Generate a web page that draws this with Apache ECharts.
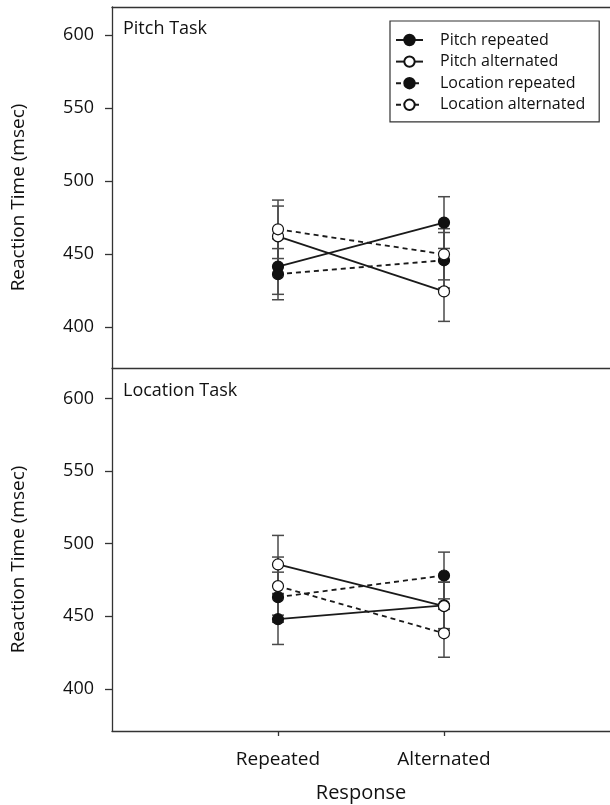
<!DOCTYPE html>
<html>
<head>
<meta charset="utf-8">
<script src="https://cdn.jsdelivr.net/npm/echarts@6/dist/echarts.min.js"></script>
<style>html,body{margin:0;padding:0;background:#fff;}#c{width:610px;height:805px;}</style>
</head>
<body>
<div id="c"></div>
<script>
// ---- data ----
const categories = ['Repeated', 'Alternated'];
const xPositions = [1, 2];
const yTicks = [400, 450, 500, 550, 600];
const seriesNames = ['Pitch repeated', 'Pitch alternated', 'Location repeated', 'Location alternated'];
const panelTitles = ['Pitch Task', 'Location Task'];

// Pitch task panel: means and error (+/-) per response
const pitchTaskPitchRep = [441.4, 471.5];
const pitchTaskPitchRepErr = [19, 17.7];
const pitchTaskPitchAlt = [462.1, 424.4];
const pitchTaskPitchAltErr = [20.7, 20.5];
const pitchTaskLocRep = [436.2, 445.7];
const pitchTaskLocRepErr = [17.5, 19];
const pitchTaskLocAlt = [466.9, 449.8];
const pitchTaskLocAltErr = [20, 17.5];

// Location task panel
const locTaskPitchRep = [448.0, 457.5];
const locTaskPitchRepErr = [17.4, 16];
const locTaskPitchAlt = [485.7, 457.0];
const locTaskPitchAltErr = [20, 16.5];
const locTaskLocRep = [463.2, 478.1];
const locTaskLocRepErr = [17.2, 16.1];
const locTaskLocAlt = [470.8, 438.3];
const locTaskLocAltErr = [20, 16.5];

const FONT = 'Open Sans';
const AX = '#333';
const panels = [
  [pitchTaskPitchRep, pitchTaskPitchAlt, pitchTaskLocRep, pitchTaskLocAlt],
  [locTaskPitchRep, locTaskPitchAlt, locTaskLocRep, locTaskLocAlt]
];
const panelErrs = [
  [pitchTaskPitchRepErr, pitchTaskPitchAltErr, pitchTaskLocRepErr, pitchTaskLocAltErr],
  [locTaskPitchRepErr, locTaskPitchAltErr, locTaskLocRepErr, locTaskLocAltErr]
];
const filled = [true, false, true, false];
const dashed = [false, false, true, true];

const series = [];
panels.forEach((vals, p) => {
  vals.forEach((v, s) => {
    const errs = panelErrs[p][s];
    series.push({
      type: 'custom',
      name: 'err' + p + s,
      xAxisIndex: p === 0 ? 0 : 2,
      yAxisIndex: p,
      z: 1,
      silent: true,
      data: xPositions.map((x, i) => [x, v[i], errs[i]]),
      renderItem: function (params, api) {
        const x = api.value(0), m = api.value(1), e = api.value(2);
        const hi = api.coord([x, m + e]);
        const lo = api.coord([x, m - e]);
        const hw = 6;
        const st = { stroke: '#4a4a4a', lineWidth: 1.5, fill: null };
        return {
          type: 'group',
          children: [
            { type: 'line', shape: { x1: hi[0], y1: hi[1], x2: lo[0], y2: lo[1] }, style: st },
            { type: 'line', shape: { x1: hi[0] - hw, y1: hi[1], x2: hi[0] + hw, y2: hi[1] }, style: st },
            { type: 'line', shape: { x1: lo[0] - hw, y1: lo[1], x2: lo[0] + hw, y2: lo[1] }, style: st }
          ]
        };
      }
    });
  });
  vals.forEach((v, s) => {
    series.push({
      type: 'line',
      name: seriesNames[s],
      xAxisIndex: p === 0 ? 0 : 2,
      yAxisIndex: p,
      z: 3,
      data: xPositions.map((x, i) => [x, v[i]]),
      symbol: 'circle',
      symbolSize: 11,
      lineStyle: { color: '#1a1a1a', width: 1.8, type: dashed[s] ? [5, 4] : 'solid' },
      itemStyle: { color: filled[s] ? '#111' : '#fff', borderColor: '#111', borderWidth: 1.2 },
      emphasis: { disabled: true }
    });
  });
});

const lineStyle = { color: AX, width: 1.3 };
const yAxisCommon = {
  type: 'value',
  name: 'Reaction Time (msec)',
  nameLocation: 'middle',
  nameGap: 84,
  nameTextStyle: { fontFamily: FONT, fontSize: 19, color: '#111', padding: [0, 20, 0, 0] },
  axisLine: { show: true, lineStyle: lineStyle },
  axisTick: { show: true, length: 7, customValues: yTicks, lineStyle: lineStyle },
  axisLabel: { show: true, customValues: yTicks, margin: 18, fontFamily: FONT, fontSize: 18, color: '#111' },
  splitLine: { show: false }
};

const option = {
  animation: false,
  backgroundColor: '#fff',
  grid: [
    { left: 112, top: 7, width: 504, height: 361 },
    { left: 112, top: 368, width: 504, height: 363 }
  ],
  title: [
    { text: panelTitles[0], left: 123, top: 20, padding: 0, textStyle: { fontFamily: FONT, fontSize: 18, fontWeight: 'normal', color: '#111' } },
    { text: panelTitles[1], left: 123, top: 382, padding: 0, textStyle: { fontFamily: FONT, fontSize: 18, fontWeight: 'normal', color: '#111' } }
  ],
  legend: {
    orient: 'vertical',
    left: 390, top: 21,
    padding: [11, 14, 9, 5],
    itemWidth: 27, itemHeight: 13, itemGap: 5.6,
    borderColor: AX, borderWidth: 1.2,
    textStyle: { fontFamily: FONT, fontSize: 16, lineHeight: 15, color: '#111', padding: [0, 0, 0, 12] },
    data: seriesNames,
    selectedMode: false
  },
  xAxis: [
    { gridIndex: 0, type: 'value', min: 0, max: 3, axisLine: { show: true, onZero: false, lineStyle: lineStyle }, axisTick: { show: false }, axisLabel: { show: false }, splitLine: { show: false } },
    { gridIndex: 0, type: 'value', position: 'top', min: 0, max: 3, axisLine: { show: true, onZero: false, lineStyle: lineStyle }, axisTick: { show: false }, axisLabel: { show: false }, splitLine: { show: false } },
    {
      gridIndex: 1, type: 'value', min: 0, max: 3,
      name: 'Response', nameLocation: 'middle', nameGap: 52,
      nameTextStyle: { fontFamily: FONT, fontSize: 20, color: '#111' },
      axisLine: { show: true, onZero: false, lineStyle: lineStyle },
      axisTick: { show: true, length: 5, customValues: xPositions, lineStyle: lineStyle },
      axisLabel: { show: true, customValues: xPositions, margin: 19, fontFamily: FONT, fontSize: 19, color: '#111',
        formatter: function (v) { const i = xPositions.indexOf(v); return i >= 0 ? categories[i] : ''; } },
      splitLine: { show: false }
    }
  ],
  yAxis: [
    Object.assign({}, yAxisCommon, { gridIndex: 0, min: 372, max: 619 }),
    Object.assign({}, yAxisCommon, { gridIndex: 1, min: 371, max: 621 })
  ],
  series: series
};

const chart = echarts.init(document.getElementById('c'), null, { renderer: 'canvas' });
chart.setOption(option);
</script>
</body>
</html>
